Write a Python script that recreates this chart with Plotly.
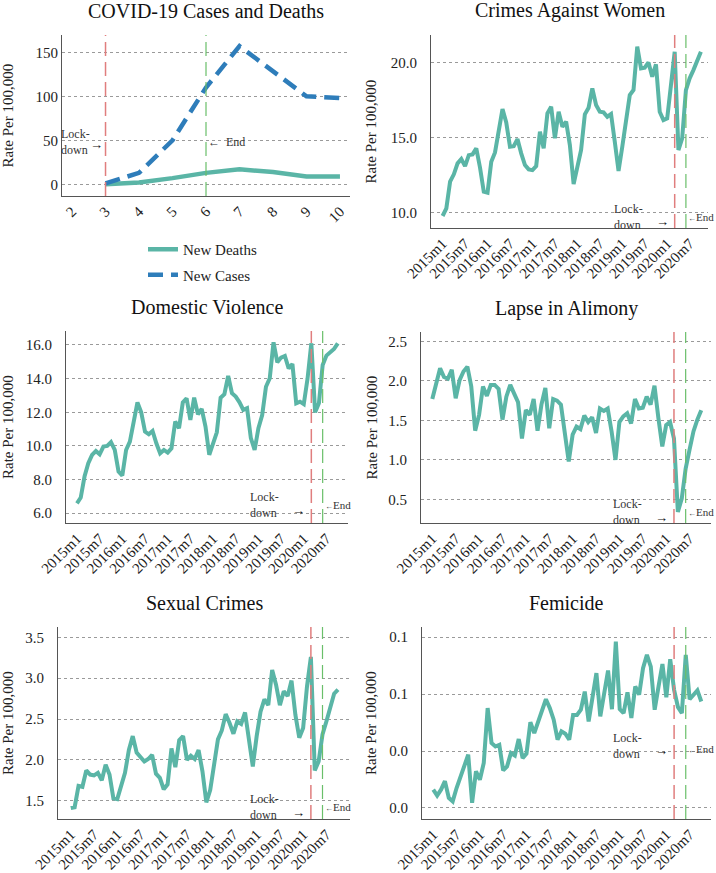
import plotly.graph_objects as go

# ---- COVID panel data ----
covid_month = [3, 4, 5, 6, 7, 8, 9, 10]
new_cases = [1, 13, 50, 110, 157, 128, 100, 98]
new_deaths = [0, 2, 7, 13, 17, 14, 9, 9]
covid_ticks = [2, 3, 4, 5, 6, 7, 8, 9, 10]

# ---- monthly crime series, 2015m1 .. 2020m10 ----
months = [f"{y}m{m}" for y in range(2015, 2021) for m in range(1, 13)][:70]
month_ticks = months[::6]
lockdown_month, end_month = "2020m3", "2020m6"

crimes_women = [
    9.78, 10.29, 12.07, 12.56, 13.29, 13.58, 13.11, 13.84, 13.89, 14.29,
    13.0, 11.4, 11.33, 13.4, 14.02, 15.62, 16.91, 16.02, 14.4, 14.44,
    14.91, 13.96, 13.18, 12.89, 12.84, 13.11, 15.4, 14.29, 16.62, 17.07,
    14.96, 16.73, 15.73, 16.07, 14.51, 11.91, 13.07, 14.18, 16.56, 17.0,
    18.29, 17.18, 16.73, 16.69, 16.4, 16.58, 14.73, 12.78, 14.4, 15.96,
    17.84, 18.18, 21.07, 19.62, 19.67, 20.02, 19.07, 19.89, 16.73, 16.18,
    16.29, 18.5, 20.73, 14.18, 14.96, 18.18, 18.96, 19.51, 20.07, 20.73]
domestic_violence = [
    6.59, 6.93, 8.18, 8.97, 9.47, 9.70, 9.50, 9.96, 10.0, 10.22,
    9.76, 8.48, 8.24, 9.76, 10.26, 11.45, 12.59, 12.0, 10.85, 10.69,
    10.89, 10.16, 9.56, 9.76, 9.60, 9.86, 11.45, 11.05, 12.59, 12.83,
    11.54, 12.87, 11.88, 12.2, 11.15, 9.47, 10.16, 10.81, 12.87, 13.07,
    14.16, 13.13, 12.93, 12.59, 12.14, 12.24, 10.46, 9.76, 11.05, 11.84,
    13.52, 14.02, 16.16, 14.97, 15.25, 15.35, 14.61, 14.87, 12.53, 12.63,
    12.48, 14.0, 16.1, 12.0, 12.53, 14.81, 15.37, 15.54, 15.76, 16.1]
lapse_alimony = [
    1.77, 1.97, 2.16, 2.05, 2.03, 2.14, 1.78, 2.01, 2.12, 2.18,
    1.93, 1.37, 1.57, 1.93, 1.81, 1.95, 1.95, 1.90, 1.51, 1.80,
    1.95, 1.84, 1.73, 1.27, 1.63, 1.57, 1.77, 1.37, 1.70, 1.91,
    1.40, 1.77, 1.75, 1.70, 1.36, 0.98, 1.32, 1.42, 1.39, 1.56,
    1.48, 1.54, 1.34, 1.65, 1.62, 1.65, 1.36, 1.0, 1.48, 1.55,
    1.59, 1.46, 1.77, 1.65, 1.66, 1.80, 1.70, 1.94, 1.53, 1.17,
    1.44, 1.48, 1.27, 0.34, 0.51, 0.89, 1.13, 1.36, 1.51, 1.63]
sexual_crimes = [
    1.41, 1.42, 1.68, 1.67, 1.87, 1.82, 1.81, 1.84, 1.75, 1.94,
    1.82, 1.53, 1.52, 1.70, 1.84, 2.12, 2.29, 2.09, 2.03, 1.98,
    2.01, 2.06, 1.83, 1.78, 1.64, 1.70, 2.14, 1.91, 2.24, 2.29,
    2.0, 2.05, 2.01, 2.12, 1.86, 1.48, 1.63, 1.92, 2.25, 2.36,
    2.56, 2.45, 2.32, 2.47, 2.44, 2.58, 2.25, 1.92, 2.29, 2.59,
    2.74, 2.67, 3.10, 2.92, 2.67, 2.84, 2.78, 2.97, 2.55, 2.27,
    2.39, 2.90, 3.26, 1.87, 1.98, 2.31, 2.47, 2.63, 2.81, 2.86]
femicide = [
    0.0264, 0.0243, 0.0264, 0.0294, 0.0235, 0.0223, 0.0270, 0.0311, 0.0346, 0.0387,
    0.0218, 0.0329, 0.0299, 0.0358, 0.0551, 0.0428, 0.0416, 0.0422, 0.0332, 0.0346,
    0.0393, 0.0384, 0.0442, 0.0375, 0.0391, 0.0501, 0.0463, 0.0504, 0.0547, 0.0582,
    0.0551, 0.0510, 0.0440, 0.0469, 0.0461, 0.0440, 0.0527, 0.0527, 0.0545, 0.0609,
    0.0504, 0.0589, 0.0674, 0.0522, 0.0598, 0.0683, 0.0547, 0.0785, 0.0547, 0.0533,
    0.0606, 0.0516, 0.0627, 0.0598, 0.0691, 0.0738, 0.0697, 0.0545, 0.0627, 0.0706,
    0.0589, 0.0723, 0.0615, 0.0554, 0.0533, 0.0738, 0.0582, 0.0598, 0.0613, 0.0574]

W, H = 716, 873
FONT = "Liberation Serif"
TEAL = "#5ab5a6"
BLUE = "#2e7dba"
RED = "#e07e7e"
GREEN = "#6abf6a"
TXT = "#222222"


def xdom(left, right):
    return [left / W, right / W]


def ydom(top, bottom):
    return [1 - bottom / H, 1 - top / H]


fig = go.Figure()

# ── COVID panel ──
fig.add_trace(go.Scatter(x=covid_month, y=new_deaths, mode="lines", name="New Deaths",
                         legendgroup="deaths",
                         line=dict(color=TEAL, width=4.5), xaxis="x", yaxis="y"))
fig.add_trace(go.Scatter(x=covid_month, y=new_cases, mode="lines", name="New Cases",
                         legendgroup="cases",
                         line=dict(color=BLUE, width=4.5, dash="15px,8px"), xaxis="x", yaxis="y"))

# ── crime panels ──
crime_panels = [
    ("Crimes Against Women", crimes_women, 2),
    ("Domestic Violence", domestic_violence, 3),
    ("Lapse in Alimony", lapse_alimony, 4),
    ("Sexual Crimes", sexual_crimes, 5),
    ("Femicide", femicide, 6),
]
month_idx = list(range(len(months)))
for name, vals, k in crime_panels:
    fig.add_trace(go.Scatter(x=month_idx, y=vals, mode="lines", showlegend=False,
                             line=dict(color=TEAL, width=4), name=name,
                             xaxis=f"x{k}", yaxis=f"y{k}"))

# panel geometry (pixels) and axis settings
geom = {
    1: dict(x=(62, 350), y=(35, 196), yr=[-13.3, 169.7], xr=[1.70, 10.3]),
    2: dict(x=(431, 708), y=(35, 228), yr=[8.98, 21.85], xr=[-3.1, 70.9]),
    3: dict(x=(66, 348), y=(331, 523), yr=[5.42, 16.83], xr=[-2.9, 71.7]),
    4: dict(x=(421, 711), y=(332, 523), yr=[0.2, 2.62], xr=[-2.9, 71.5]),
    5: dict(x=(58, 350), y=(627, 819), yr=[1.276, 3.626], xr=[-3.3, 72.1]),
    6: dict(x=(422, 711), y=(627, 819), yr=[0.0161, 0.0836], xr=[-2.9, 71.5]),
}
ytick_cfg = {
    1: dict(tickvals=[0, 50, 100, 150], tickformat="d"),
    2: dict(tickvals=[10, 15, 20], tickformat=".1f"),
    3: dict(tickvals=[6, 8, 10, 12, 14, 16], tickformat=".1f"),
    4: dict(tickvals=[0.5, 1.0, 1.5, 2.0, 2.5], tickformat=".1f"),
    5: dict(tickvals=[1.5, 2.0, 2.5, 3.0, 3.5], tickformat=".1f"),
    6: dict(tickvals=[0.02, 0.04, 0.06, 0.08], tickformat=".1f"),
}
titles = {1: "COVID-19 Cases and Deaths", 2: "Crimes Against Women", 3: "Domestic Violence",
          4: "Lapse in Alimony", 5: "Sexual Crimes", 6: "Femicide"}

layout_axes = {}
annotations = []
shapes = []
tickfont = dict(family=FONT, size=15, color=TXT)
for k, g in geom.items():
    xs = "" if k == 1 else str(k)
    if k == 1:
        xticks = dict(tickvals=covid_ticks, ticktext=[str(t) for t in covid_ticks])
    else:
        xticks = dict(tickvals=[months.index(m) for m in month_ticks], ticktext=month_ticks)
    layout_axes[f"xaxis{xs}"] = dict(
        domain=xdom(*g["x"]), range=g["xr"], anchor=f"y{xs}", automargin=False,
        showline=True, linecolor="#555", linewidth=1, showgrid=False, zeroline=False,
        ticks="", tickangle=-45, tickfont=dict(family=FONT, size=15, color=TXT), **xticks)
    layout_axes[f"yaxis{xs}"] = dict(
        domain=ydom(*g["y"]), range=g["yr"], anchor=f"x{xs}", automargin=False,
        showline=True, linecolor="#555", linewidth=1, showgrid=True,
        gridcolor="#9a9a9a", griddash="dot", gridwidth=1, zeroline=False,
        ticks="", tickfont=tickfont, ticklabelstandoff=0 if k == 1 else 10,
        **ytick_cfg[k])
    # subplot title
    annotations.append(dict(text=titles[k], xref=f"x{xs} domain", yref=f"y{xs} domain",
                            x=0.5, y=1, yshift=24, showarrow=False, xanchor="center",
                            yanchor="middle", font=dict(family=FONT, size=20, color="#111")))
    # y-axis title
    left_x = 8 if g["x"][0] < 200 else 371
    annotations.append(dict(text="Rate Per 100,000", xref="paper", yref=f"y{xs} domain",
                            x=left_x / W, y=0.5, textangle=-90, showarrow=False,
                            xanchor="center", yanchor="middle",
                            font=dict(family=FONT, size=15, color=TXT)))

# lockdown / end lines
for k in geom:
    xs = "" if k == 1 else str(k)
    if k == 1:
        lx, ex = covid_month[0], covid_month[3]
    else:
        lx, ex = months.index(lockdown_month), months.index(end_month)
    shapes.append(dict(type="line", xref=f"x{xs}", yref=f"y{xs} domain", x0=lx, x1=lx, y0=0, y1=1,
                       line=dict(color=RED, width=1.5, dash="14px,6px")))
    shapes.append(dict(type="line", xref=f"x{xs}", yref=f"y{xs} domain", x0=ex, x1=ex, y0=0, y1=1,
                       line=dict(color=GREEN, width=1.2, dash="14px,6px")))

    afont = dict(family=FONT, size=12, color="#333")
    if k == 1:
        yref, ytxt, yarr, yend = "y", 48.6, 45, 48
    elif k == 6:
        yref, ytxt, yarr, yend = "y6", 0.0418, 0.0402, 0.0408
    else:
        yref = f"y{xs} domain"
        off = {2: 11, 3: 18, 4: 11, 5: 12}[k]
        ytxt = off / (g["y"][1] - g["y"][0])
        yarr = (off - 5) / (g["y"][1] - g["y"][0])
        yend = off / (g["y"][1] - g["y"][0])
    lock_shift = -14 if k == 1 else -30
    annotations.append(dict(text="Lock-<br>down", xref=f"x{xs}", yref=yref, x=lx, y=ytxt,
                            xshift=lock_shift, xanchor="right", yanchor="middle", align="left",
                            showarrow=False, font=afont))
    annotations.append(dict(text="→", xref=f"x{xs}", yref=yref, x=lx, y=yarr,
                            xshift=-1 if k == 1 else -4, xanchor="right", yanchor="middle",
                            showarrow=False, font=dict(family=FONT, size=13, color="#111")))
    if k == 1:
        end_text, end_font = "←  End", afont
    else:
        end_text = "<span style='font-size:8px'>←</span>End"
        end_font = dict(family=FONT, size=11, color="#333")
    annotations.append(dict(text=end_text, xref=f"x{xs}", yref=yref, x=ex,
                            y=yend, xshift=0, xanchor="left", yanchor="middle", showarrow=False,
                            font=end_font))

fig.update_layout(
    width=W, height=H,
    paper_bgcolor="white", plot_bgcolor="white",
    margin=dict(l=0, r=0, t=0, b=0, autoexpand=False),
    font=dict(family=FONT, color=TXT),
    showlegend=True,
    legend=dict(x=143 / W, y=1 - 233 / H, xanchor="left", yanchor="top",
                tracegroupgap=3, traceorder="grouped",
                bgcolor="rgba(0,0,0,0)", font=dict(family=FONT, size=15, color=TXT)),
    annotations=annotations,
    shapes=shapes,
    **layout_axes,
)

# the page body has a default 8px margin; drop it so the figure sits at the window origin
fig.write_html("out.html", config={"displayModeBar": False},
               post_script="document.body.style.margin='0';")
